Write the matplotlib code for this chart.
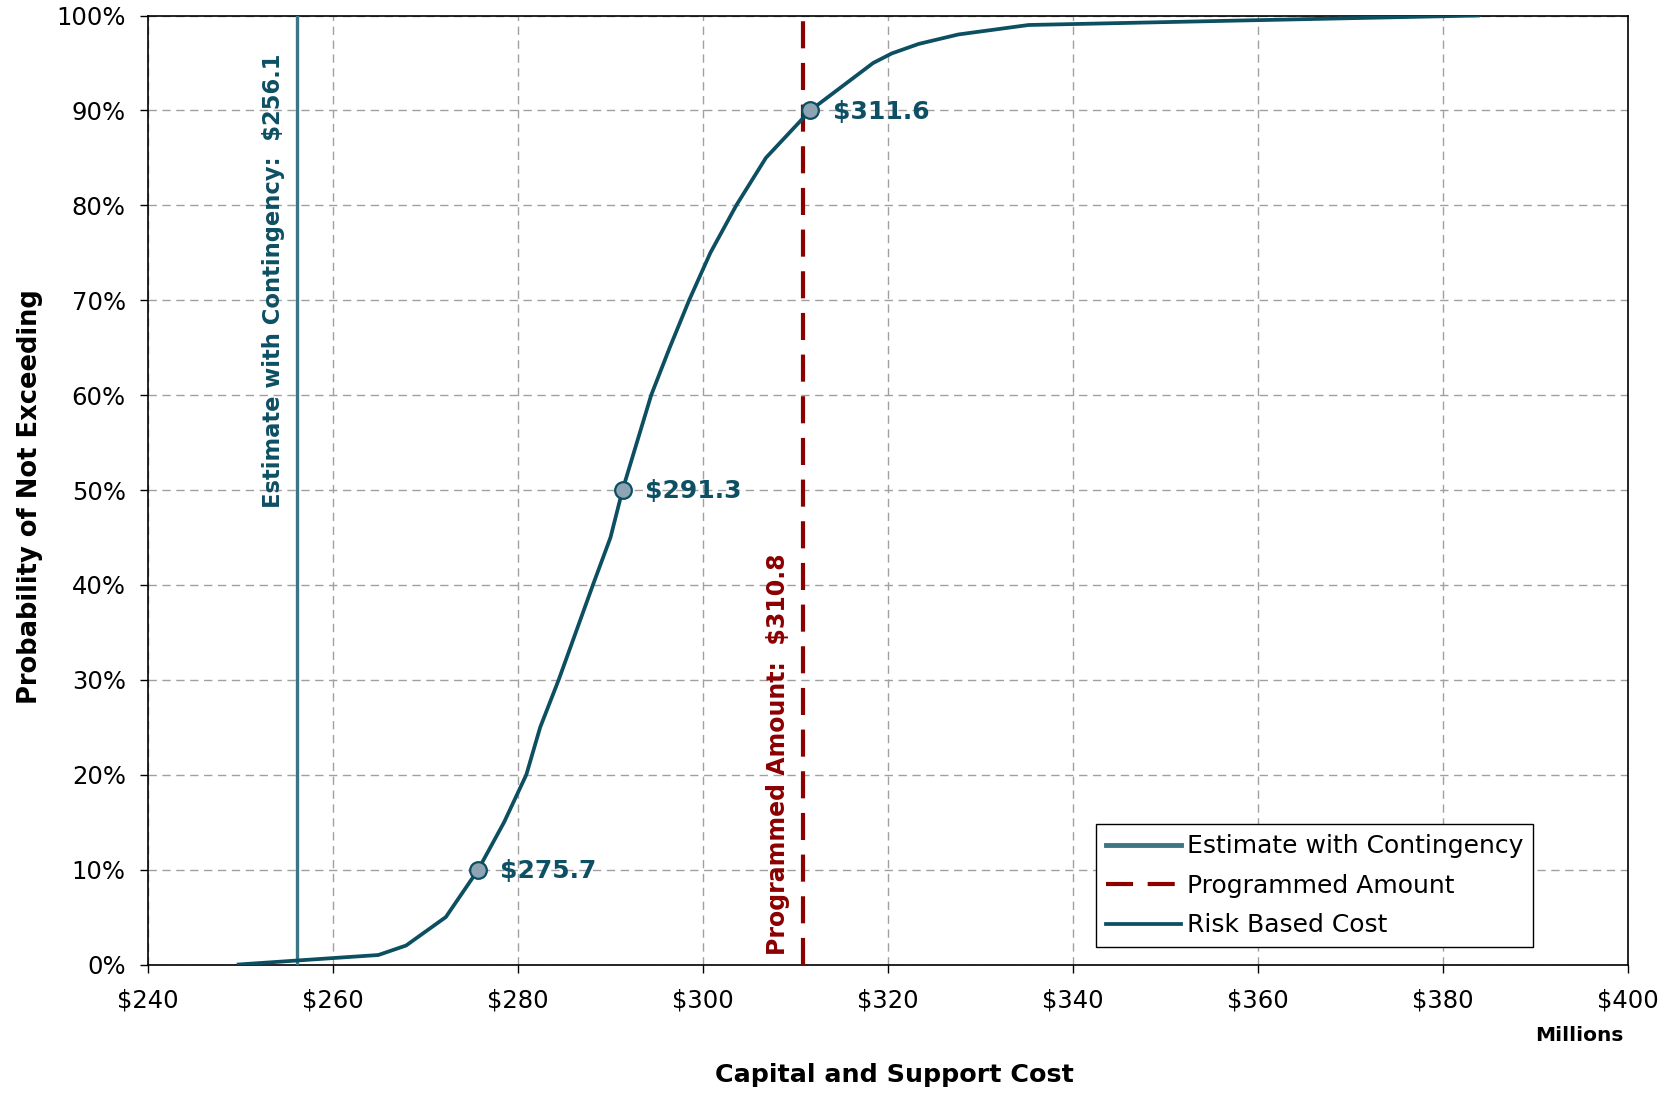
import matplotlib
matplotlib.use("Agg")
import matplotlib.pyplot as plt
from matplotlib.ticker import FuncFormatter

# cumulative cost curve, $M vs probability (%)
cost = [249.8, 256.1, 264.9, 267.9, 272.2, 275.7, 278.5, 280.9, 282.4, 284.4,
        288.1, 290.0, 291.3, 294.4, 296.4, 298.5, 300.8, 303.6, 306.8, 311.6,
        318.4, 320.4, 323.3, 327.6, 335.2, 383.8]
prob = [0, 0.42, 1.0, 2.0, 5.0, 10, 15, 20, 25, 30,
        40, 45, 50, 60, 65, 70, 75, 80, 85, 90,
        95, 96, 97, 98, 99, 100]

marker_cost = [275.7, 291.3, 311.6]
marker_prob = [10, 50, 90]
marker_labels = ["$275.7", "$291.3", "$311.6"]

estimate = 256.1
programmed = 310.8

x_ticks = list(range(240, 401, 20))
y_ticks = list(range(0, 101, 10))

CURVE = "#0b4f61"
EST = "#3e7585"
PROG = "#8b0000"
TXT = "#0d4f63"

fig = plt.figure(figsize=(16.79, 10.93), dpi=100)
ax = fig.add_axes([148 / 1679, 1 - 964.5 / 1093, 1480 / 1679, 949 / 1093])

ax.axvline(estimate, color=EST, lw=2.4, label="Estimate with Contingency", zorder=3)
ax.axvline(programmed, color=PROG, lw=3.0, dashes=(6.5, 3.5),
           label="Programmed Amount", zorder=3)
ax.plot(cost, prob, color=CURVE, lw=2.7, label="Risk Based Cost", zorder=4)
ax.plot(marker_cost, marker_prob, "o", ms=12, mfc="#8ea3b4", mec=CURVE, mew=1.6, zorder=5)

# value labels next to the 10/50/90 markers
for xv, yv, lab in zip(marker_cost, marker_prob, marker_labels):
    ax.annotate(lab, (xv, yv), xytext=(16, -1), textcoords="offset points",
                ha="left", va="center", fontsize=18, fontweight="bold", color=TXT)

ax.text(254.3, 48.1, "Estimate with Contingency:  $256.1", rotation=90,
        rotation_mode="anchor", ha="left", va="baseline",
        fontsize=16.3, fontweight="bold", color=TXT)
ax.text(308.9, 1.0, "Programmed Amount:  $310.8", rotation=90,
        rotation_mode="anchor", ha="left", va="baseline",
        fontsize=17, fontweight="bold", color=PROG)

ax.set_xlim(240, 400)
ax.set_ylim(0, 100)
ax.set_xticks(x_ticks)
ax.set_yticks(y_ticks)
ax.xaxis.set_major_formatter(FuncFormatter(lambda v, p: "$%d" % v))
ax.yaxis.set_major_formatter(FuncFormatter(lambda v, p: "%d%%" % v))
ax.tick_params(axis="x", direction="out", length=5.5, width=1, labelsize=17.5, pad=12)
ax.tick_params(axis="y", direction="out", length=6, width=1, labelsize=17.5, pad=10)

ax.grid(True, color="#a0a0a0", lw=1.0, dashes=(6, 4), zorder=0)
ax.set_axisbelow(True)
for sp in ax.spines.values():
    sp.set_color("black")
    sp.set_linewidth(1.2)

leg = ax.legend(loc="lower right", bbox_to_anchor=(0.936, 0.018), borderaxespad=0,
                fontsize=18, frameon=True, fancybox=False, handlelength=3.0,
                handletextpad=0.25, labelspacing=0.62, borderpad=0.4)
leg.get_frame().set_edgecolor("black")
leg.get_frame().set_linewidth(1.0)
leg.get_frame().set_alpha(1)
for h in leg.get_lines():
    if h.get_label() == "Estimate with Contingency":
        h.set_linewidth(3.5)

fig.text(0.0223, 0.546, "Probability of Not Exceeding", rotation=90,
         rotation_mode="anchor", ha="center", va="baseline",
         fontsize=18.5, fontweight="bold")
fig.text(0.533, 0.0101, "Capital and Support Cost", ha="center", va="baseline",
         fontsize=18.3, fontweight="bold")
fig.text(0.9667, 0.0476, "Millions", ha="right", va="baseline",
         fontsize=14.5, fontweight="bold")

fig.savefig("out.png", dpi=100)
